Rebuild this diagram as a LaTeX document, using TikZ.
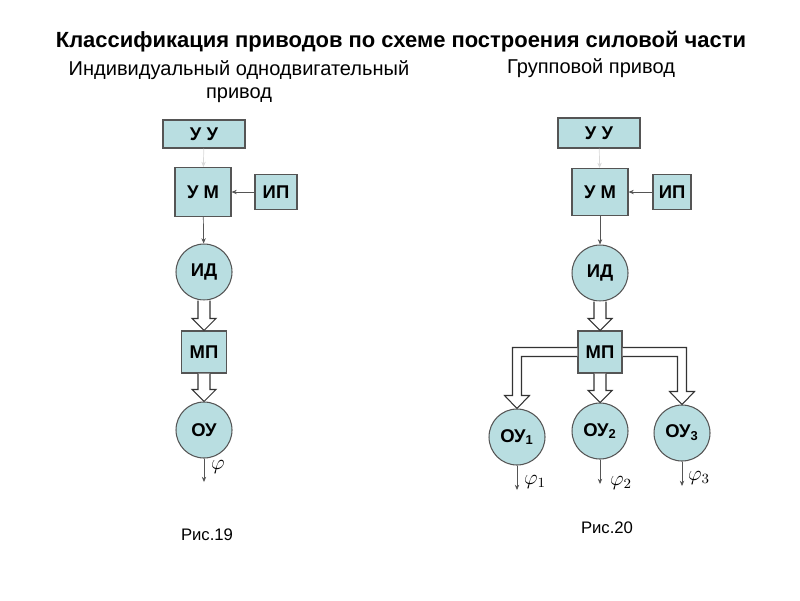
\documentclass[tikz,border=0pt]{standalone}
\usepackage{fontspec}
\setmainfont{Liberation Sans}
\usetikzlibrary{calc,arrows.meta}
\definecolor{blok}{RGB}{185,222,225}
\definecolor{rama}{RGB}{85,85,85}
\tikzset{
  blok/.style={draw=rama, fill=blok, line width=0.6pt, font=\bfseries\fontsize{10.5}{12}\selectfont, inner sep=0pt},
  kvadr/.style={blok, rectangle},
  krug/.style={blok, circle, minimum size=1.12cm},
  svyaz/.style={draw=rama, line width=0.4pt, -{Stealth[length=3pt,width=2.5pt]}},
  fi/.style={font=\fontsize{11.5}{13}\selectfont},
}
% hollow power arrow, straight down
\NewDocumentCommand\silovaya{mm}{%
  \draw[black!80, line width=0.6pt, fill=white] let \p1=(#1.south), \p2=(#2.north) in
    (\x1-0.12cm,\y1) -- (\x1-0.12cm,\y2+0.24cm) -- (\x1-0.24cm,\y2+0.24cm)
    -- (\x1,\y2) -- (\x1+0.24cm,\y2+0.24cm) -- (\x1+0.12cm,\y2+0.24cm) -- (\x1+0.12cm,\y1);}
% hollow branch: #3 = -1 to the left, 1 to the right
\NewDocumentCommand\vetka{mmm}{%
  \draw[black!80, line width=0.6pt, fill=white] let \p1=(#1), \p2=(#2.north) in
    (\x1,\y1+0.09cm) -- ({\x2+(#3)*0.09cm},\y1+0.09cm) -- ({\x2+(#3)*0.09cm},\y2+0.26cm)
    -- ({\x2+(#3)*0.25cm},\y2+0.26cm) -- (\x2,\y2) -- ({\x2-(#3)*0.25cm},\y2+0.26cm)
    -- ({\x2-(#3)*0.09cm},\y2+0.26cm) -- ({\x2-(#3)*0.09cm},\y1-0.09cm) -- (\x1,\y1-0.09cm);}

\begin{document}
\begin{tikzpicture}[x=0.02cm, y=-0.02cm]
  \useasboundingbox (0,0) rectangle (800,600);
  \node[font=\bfseries\fontsize{12.5}{14}\selectfont] (title) at (401,42)
    {Классификация приводов по схеме построения силовой части};
  \node[font=\fontsize{11.4}{13}\selectfont, align=center] (sub1) at (239,82)
    {Индивидуальный однодвигательный\\привод};
  \node[font=\fontsize{11.4}{13}\selectfont] (sub2) at (591,68) {Групповой привод};

  % Рис.19
  \node[kvadr, minimum width=1.64cm, minimum height=0.56cm] (uu1) at (204,134) {У У};
  \node[kvadr, minimum width=1.12cm, minimum height=0.98cm] (um1) at (203,192) {У М};
  \node[kvadr, minimum width=0.84cm, minimum height=0.7cm] (ip1) at (276,192) {ИП};
  \node[krug] (id1) at (204,272) {ИД};
  \node[kvadr, minimum width=0.9cm, minimum height=0.84cm] (mp1) at (204,352) {МП};
  \node[krug] (ou1) at (204,430) {ОУ};
  \coordinate (fi1) at (204,482);
  \draw[svyaz, draw=black!15] (uu1) -- (um1);
  \draw[svyaz] (ip1) -- (um1);
  \draw[svyaz] (um1) -- (id1);
  \silovaya{id1}{mp1}
  \silovaya{mp1}{ou1}
  \draw[svyaz] (ou1) -- (fi1);
  \node[fi] (phi1) at (218,467) {$\varphi$};
  \node[font=\fontsize{9.5}{11}\selectfont] (ris19) at (207,535) {Рис.19};

  % Рис.20
  \node[kvadr, minimum width=1.64cm, minimum height=0.6cm] (uu2) at (599,133) {У У};
  \node[kvadr, minimum width=1.12cm, minimum height=0.94cm] (um2) at (600,192) {У М};
  \node[kvadr, minimum width=0.76cm, minimum height=0.7cm] (ip2) at (672,192) {ИП};
  \node[krug] (id2) at (600,273) {ИД};
  \node[kvadr, minimum width=0.88cm, minimum height=0.84cm] (mp2) at (600,352) {МП};
  \node[krug] (oua) at (517,437) {ОУ\textsubscript{1}};
  \node[krug] (oub) at (600,431) {ОУ\textsubscript{2}};
  \node[krug] (ouc) at (682,433) {ОУ\textsubscript{3}};
  \draw[svyaz, draw=black!15] (uu2) -- (um2);
  \draw[svyaz] (ip2) -- (um2);
  \draw[svyaz] (um2) -- (id2);
  \silovaya{id2}{mp2}
  \silovaya{mp2}{oub}
  \vetka{mp2.west}{oua}{-1}
  \vetka{mp2.east}{ouc}{1}
  \coordinate (fia) at (517,490);
  \coordinate (fib) at (600,484);
  \coordinate (fic) at (682,486);
  \draw[svyaz] (oua) -- (fia);
  \draw[svyaz] (oub) -- (fib);
  \draw[svyaz] (ouc) -- (fic);
  \node[fi] (phia) at (535,482) {$\varphi_{1}$};
  \node[fi] (phib) at (621,483) {$\varphi_{2}$};
  \node[fi] (phic) at (699,478) {$\varphi_{3}$};
  \node[font=\fontsize{9.5}{11}\selectfont] (ris20) at (607,528) {Рис.20};
\end{tikzpicture}
\end{document}
